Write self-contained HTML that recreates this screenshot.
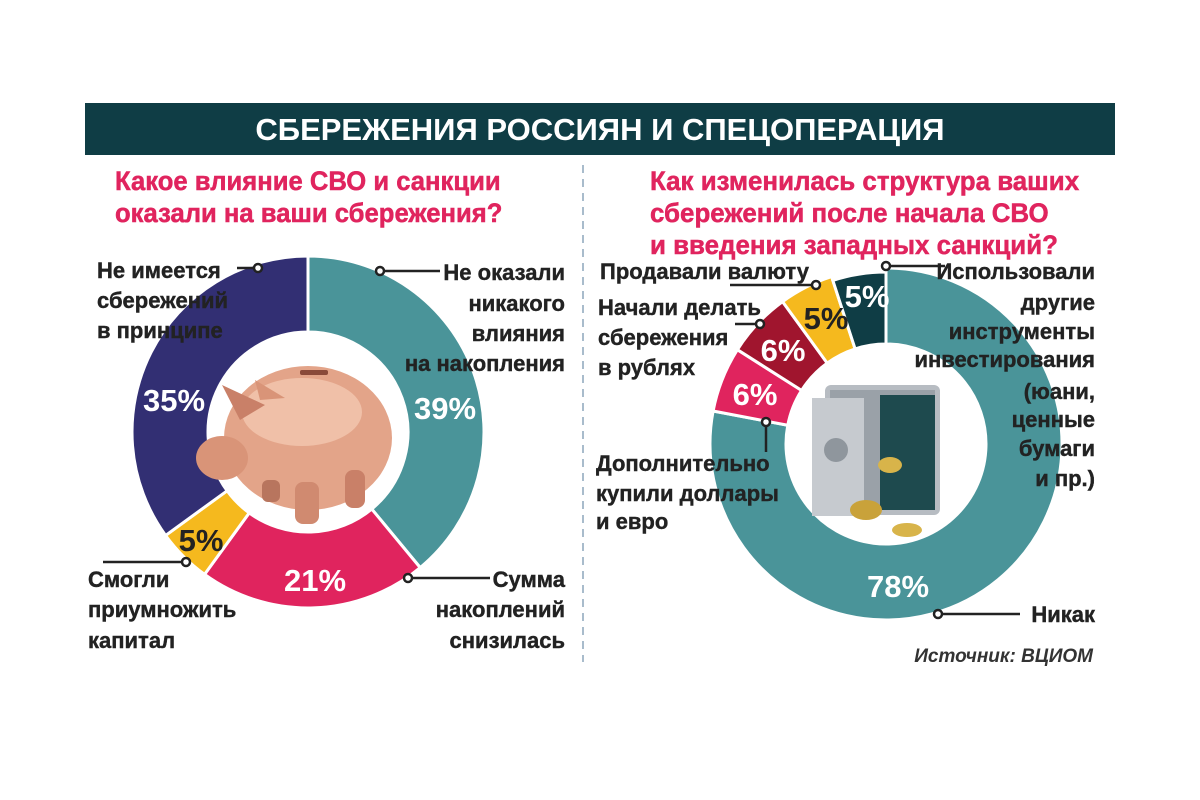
<!DOCTYPE html>
<html><head><meta charset="utf-8"><style>
body{margin:0;width:1200px;height:800px;background:#fff;overflow:hidden}
svg{position:absolute;left:0;top:0}
text{font-family:"Liberation Sans",sans-serif;font-weight:bold}
</style></head><body>
<svg id="s" width="1200" height="800" viewBox="0 0 1200 800">
<rect x="85" y="103" width="1030" height="52" fill="#0f3d45"/>
<text x="600" y="140" text-anchor="middle" fill="#fff" font-size="31">СБЕРЕЖЕНИЯ РОССИЯН И СПЕЦОПЕРАЦИЯ</text>
<line x1="583" y1="165" x2="583" y2="662" stroke="#a9bccc" stroke-width="2" stroke-dasharray="8,6"/>
<g fill="#e0245e" font-size="27" stroke="#e0245e" stroke-width="0.5">
<g transform="translate(115,0) scale(0.95,1) translate(-115,0)">
<text x="115" y="190">Какое влияние СВО и санкции</text>
<text x="115" y="222">оказали на ваши сбережения?</text></g>
<g transform="translate(650,0) scale(0.96,1) translate(-650,0)">
<text x="650" y="190">Как изменилась структура ваших</text>
<text x="650" y="222">сбережений после начала СВО</text>
<text x="650" y="254">и введения западных санкций?</text></g>
</g>
<g id="donuts"></g>
<!-- pig -->
<g>
<ellipse cx="308" cy="438" rx="84" ry="72" fill="#e3a489"/>
<ellipse cx="302" cy="412" rx="60" ry="34" fill="#f0c0a8"/>
<ellipse cx="222" cy="458" rx="26" ry="22" fill="#d99478"/>
<polygon points="240,420 222,385 265,405" fill="#c98068"/>
<polygon points="260,400 255,380 285,398" fill="#d99478"/>
<rect x="295" y="482" width="24" height="42" rx="8" fill="#d08a70"/>
<rect x="345" y="470" width="20" height="38" rx="8" fill="#c98068"/>
<rect x="262" y="480" width="18" height="22" rx="6" fill="#b8755e"/>
<rect x="300" y="370" width="28" height="5" rx="2" fill="#8a4a3a"/>
</g>
<!-- safe -->
<g>
<rect x="825" y="385" width="115" height="130" rx="6" fill="#b7bcc2"/>
<rect x="830" y="390" width="105" height="120" fill="#9aa1a8"/>
<rect x="880" y="395" width="55" height="115" fill="#1e4a4e"/>
<rect x="812" y="398" width="52" height="118" fill="#c6cacf"/>
<circle cx="836" cy="450" r="12" fill="#8f969d"/>
<ellipse cx="866" cy="510" rx="16" ry="10" fill="#c9a23a"/>
<ellipse cx="890" cy="465" rx="12" ry="8" fill="#d8b44a"/>
<ellipse cx="907" cy="530" rx="15" ry="7" fill="#d8b44a"/>
</g>
<g font-size="31" fill="#fff" text-anchor="middle" font-weight="bold">
<text x="445" y="419">39%</text><text x="174" y="411">35%</text><text x="315" y="591">21%</text>
<text x="201" y="551" fill="#222">5%</text>
<text x="898" y="597">78%</text><text x="755" y="405">6%</text><text x="783" y="361">6%</text>
<text x="826" y="329" fill="#222">5%</text><text x="867" y="307">5%</text>
</g>
<g stroke="#222" stroke-width="2.5" fill="#fff">
<line x1="237" y1="268" x2="258" y2="268"/><circle cx="258" cy="268" r="4"/>
<line x1="380" y1="271" x2="440" y2="271"/><circle cx="380" cy="271" r="4"/>
<line x1="103" y1="562" x2="186" y2="562"/><circle cx="186" cy="562" r="4"/>
<line x1="408" y1="578" x2="490" y2="578"/><circle cx="408" cy="578" r="4"/>
<line x1="730" y1="285" x2="816" y2="285"/><circle cx="816" cy="285" r="4"/>
<line x1="735" y1="324" x2="760" y2="324"/><circle cx="760" cy="324" r="4"/>
<line x1="886" y1="266" x2="945" y2="266"/><circle cx="886" cy="266" r="4"/>
<line x1="766" y1="422" x2="766" y2="452"/><circle cx="766" cy="422" r="4"/>
<line x1="938" y1="614" x2="1020" y2="614"/><circle cx="938" cy="614" r="4"/>
</g>
<g fill="#222" font-size="22" stroke="#222" stroke-width="0.4">
<text x="97" y="278">Не имеется</text><text x="97" y="308">сбережений</text><text x="97" y="338">в принципе</text>
<g text-anchor="end"><text x="565" y="280">Не оказали</text><text x="565" y="311">никакого</text><text x="565" y="341">влияния</text><text x="565" y="371">на накопления</text>
<text x="565" y="587">Сумма</text><text x="565" y="617">накоплений</text><text x="565" y="648">снизилась</text></g>
<text x="88" y="587">Смогли</text><text x="88" y="617">приумножить</text><text x="88" y="648">капитал</text>
<text x="600" y="279">Продавали валюту</text>
<text x="598" y="315">Начали делать</text><text x="598" y="345">сбережения</text><text x="598" y="375">в рублях</text>
<text x="596" y="471">Дополнительно</text><text x="596" y="501">купили доллары</text><text x="596" y="529">и евро</text>
<g text-anchor="end"><text x="1095" y="279">Использовали</text><text x="1095" y="310">другие</text><text x="1095" y="339">инструменты</text><text x="1095" y="367">инвестирования</text><text x="1095" y="399">(юани,</text><text x="1095" y="427">ценные</text><text x="1095" y="456">бумаги</text><text x="1095" y="486">и пр.)</text>
<text x="1095" y="622">Никак</text></g>
</g>
<text x="1093" y="662" text-anchor="end" font-size="19" font-style="italic" font-weight="normal" fill="#333">Источник: ВЦИОМ</text>
</svg>
<script>
function arc(cx,cy,R,r,a0,a1,c){var t=function(a){return (a-90)*Math.PI/180};
var p=function(rr,a){return (cx+rr*Math.cos(t(a))).toFixed(2)+","+(cy+rr*Math.sin(t(a))).toFixed(2)};
var L=(a1-a0)>180?1:0;
return '<path d="M'+p(R,a0)+' A'+R+','+R+' 0 '+L+' 1 '+p(R,a1)+' L'+p(r,a1)+' A'+r+','+r+' 0 '+L+' 0 '+p(r,a0)+' Z" fill="'+c+'" stroke="#fff" stroke-width="3"/>';}
var h='';
h+=arc(308,432,176,100,0,140.4,'#4a9499');
h+=arc(308,432,176,100,140.4,216,'#e0245e');
h+=arc(308,432,176,100,216,234,'#f5b91e');
h+=arc(308,432,176,100,234,360,'#322f73');
h+=arc(886,444,176,100,0,280.8,'#4a9499');
h+=arc(886,444,176,100,280.8,302.4,'#e0245e');
h+=arc(886,444,176,100,302.4,324,'#a0152e');
h+=arc(886,444,176,100,324,342,'#f5b91e');
h+=arc(886,444,172,100,342,360,'#0f3d45');
document.getElementById('donuts').innerHTML=h;
</script>
</body></html>
